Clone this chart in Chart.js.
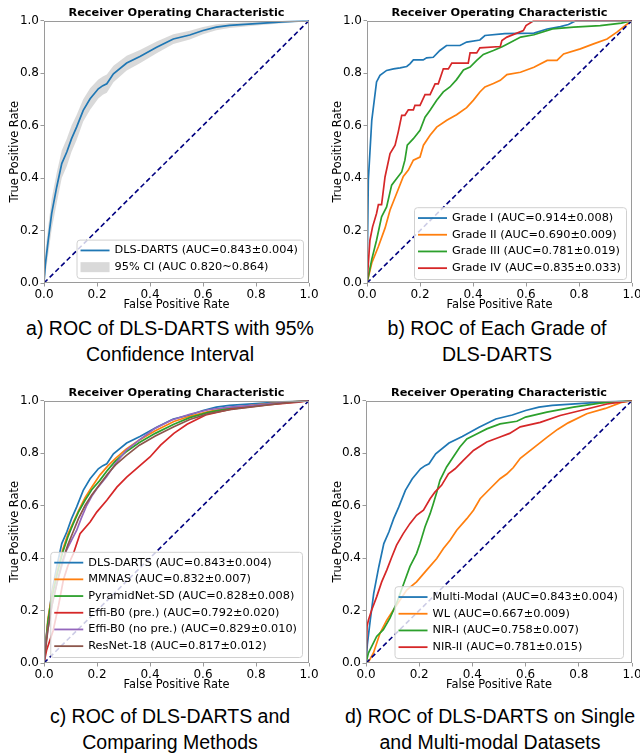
<!DOCTYPE html>
<html>
<head>
<meta charset="utf-8">
<script src="https://cdn.jsdelivr.net/npm/chart.js@4.4.1/dist/chart.umd.min.js"></script>
<style>
  html, body { margin: 0; padding: 0; background: #fff; }
  #page { position: relative; width: 640px; height: 754px; overflow: hidden; }
  canvas { position: absolute; }
  .cap {
    position: absolute; width: 400px; text-align: center; white-space: nowrap;
    font-family: "Liberation Sans", Arial, sans-serif; font-size: 19.5px; line-height: 26px; color: #000;
  }
</style>
</head>
<body>
<div id="page">
  <canvas id="rocA" width="320" height="312" style="left:0;top:0"></canvas>
  <canvas id="rocB" width="320" height="312" style="left:320px;top:0"></canvas>
  <canvas id="rocC" width="320" height="312" style="left:0;top:380px"></canvas>
  <canvas id="rocD" width="320" height="312" style="left:320px;top:380px"></canvas>
  <div class="cap" style="left:-30px;top:315px">a) ROC of DLS-DARTS with 95%<br>Confidence Interval</div>
  <div class="cap" style="left:297px;top:315px">b) ROC of Each Grade of<br>DLS-DARTS</div>
  <div class="cap" style="left:-30px;top:703px">c) ROC of DLS-DARTS and<br>Comparing Methods</div>
  <div class="cap" style="left:290px;top:703px">d) ROC of DLS-DARTS on Single<br>and Multi-modal Datasets</div>
</div>
<script>
// ---- data ----
var chanceX = [0, 1];
var chanceY = [0, 1];
var axisTicks = [0, 0.2, 0.4, 0.6, 0.8, 1.0];

// DLS-DARTS / Multi-Modal (same model, panels a, c, d)
var dlsFpr = [0, 0.005, 0.016, 0.029, 0.048, 0.067, 0.086, 0.104, 0.123, 0.148, 0.174, 0.205, 0.222, 0.237, 0.262, 0.312, 0.362, 0.425, 0.488, 0.55, 0.6, 0.65, 0.7, 0.8, 0.9, 1];
var dlsTpr = [0, 0.07, 0.163, 0.265, 0.366, 0.455, 0.499, 0.55, 0.594, 0.658, 0.702, 0.74, 0.752, 0.759, 0.797, 0.838, 0.863, 0.898, 0.93, 0.945, 0.962, 0.975, 0.982, 0.988, 0.995, 1];
var ciUpper = [0, 0.12, 0.215, 0.32, 0.42, 0.505, 0.55, 0.6, 0.64, 0.7, 0.742, 0.775, 0.787, 0.794, 0.828, 0.866, 0.888, 0.92, 0.948, 0.961, 0.975, 0.986, 0.991, 0.995, 0.999, 1];
var ciLower = [0, 0.03, 0.11, 0.205, 0.305, 0.4, 0.445, 0.5, 0.545, 0.615, 0.66, 0.703, 0.717, 0.725, 0.765, 0.81, 0.837, 0.875, 0.911, 0.928, 0.948, 0.963, 0.972, 0.981, 0.99, 1];

// panel b: grades
var g1Fpr = [0, 0.005, 0.018, 0.036, 0.049, 0.074, 0.1, 0.125, 0.15, 0.162, 0.175, 0.212, 0.225, 0.25, 0.275, 0.3, 0.351, 0.376, 0.426, 0.445, 0.52, 0.63, 0.68, 0.73, 0.76, 0.79, 1];
var g1Tpr = [0, 0.392, 0.62, 0.766, 0.791, 0.81, 0.816, 0.82, 0.825, 0.835, 0.85, 0.85, 0.858, 0.86, 0.886, 0.905, 0.905, 0.918, 0.926, 0.943, 0.95, 0.952, 0.968, 0.977, 0.985, 1, 1];
var g2Fpr = [0, 0.018, 0.043, 0.068, 0.087, 0.112, 0.137, 0.156, 0.175, 0.2, 0.213, 0.238, 0.263, 0.301, 0.338, 0.376, 0.401, 0.426, 0.445, 0.477, 0.503, 0.528, 0.579, 0.63, 0.68, 0.717, 0.742, 0.805, 0.855, 0.906, 0.943, 0.975, 1];
var g2Tpr = [0, 0.076, 0.139, 0.209, 0.278, 0.342, 0.406, 0.43, 0.468, 0.48, 0.525, 0.563, 0.594, 0.62, 0.641, 0.668, 0.696, 0.728, 0.747, 0.76, 0.772, 0.794, 0.803, 0.822, 0.848, 0.848, 0.873, 0.892, 0.911, 0.93, 0.956, 0.981, 1];
var g3Fpr = [0, 0.018, 0.036, 0.055, 0.074, 0.093, 0.112, 0.131, 0.143, 0.152, 0.175, 0.2, 0.219, 0.238, 0.263, 0.288, 0.313, 0.338, 0.364, 0.389, 0.414, 0.439, 0.477, 0.51, 0.53, 0.58, 0.63, 0.7, 0.78, 0.88, 0.96, 1];
var g3Tpr = [0, 0.09, 0.163, 0.252, 0.29, 0.373, 0.398, 0.423, 0.468, 0.525, 0.55, 0.582, 0.632, 0.658, 0.696, 0.728, 0.747, 0.775, 0.812, 0.823, 0.848, 0.871, 0.886, 0.9, 0.911, 0.937, 0.946, 0.968, 0.975, 0.981, 0.99, 1];
var g4Fpr = [0, 0.011, 0.021, 0.036, 0.043, 0.055, 0.068, 0.087, 0.106, 0.118, 0.131, 0.143, 0.156, 0.175, 0.181, 0.2, 0.219, 0.238, 0.257, 0.269, 0.288, 0.307, 0.32, 0.382, 0.389, 0.414, 0.426, 0.503, 0.509, 0.528, 0.59, 0.6, 0.63, 1];
var g4Tpr = [0, 0.163, 0.214, 0.265, 0.299, 0.299, 0.404, 0.493, 0.525, 0.576, 0.639, 0.639, 0.66, 0.66, 0.677, 0.677, 0.718, 0.718, 0.759, 0.759, 0.816, 0.816, 0.838, 0.838, 0.877, 0.877, 0.896, 0.901, 0.924, 0.937, 0.962, 0.981, 1, 1];

// panel c: comparing methods
var cmpFpr = [0, 0.015, 0.03, 0.05, 0.07, 0.09, 0.11, 0.13, 0.155, 0.18, 0.21, 0.24, 0.27, 0.31, 0.36, 0.42, 0.49, 0.55, 0.62, 0.7, 0.8, 0.9, 1];
var mmnasTpr = [0, 0.17, 0.26, 0.35, 0.43, 0.49, 0.535, 0.58, 0.63, 0.67, 0.715, 0.75, 0.78, 0.815, 0.85, 0.885, 0.92, 0.94, 0.958, 0.972, 0.984, 0.993, 1];
var pyramidTpr = [0, 0.16, 0.25, 0.34, 0.42, 0.48, 0.53, 0.575, 0.62, 0.66, 0.695, 0.735, 0.77, 0.805, 0.84, 0.875, 0.91, 0.935, 0.955, 0.97, 0.982, 0.992, 1];
var resnetTpr = [0, 0.13, 0.22, 0.31, 0.39, 0.45, 0.5, 0.55, 0.6, 0.64, 0.68, 0.72, 0.755, 0.79, 0.83, 0.865, 0.9, 0.928, 0.95, 0.965, 0.978, 0.99, 1];
var effiPreFpr = [0, 0.01, 0.035, 0.055, 0.073, 0.09, 0.111, 0.136, 0.174, 0.199, 0.237, 0.275, 0.312, 0.362, 0.4, 0.44, 0.49, 0.54, 0.61, 0.71, 0.84, 0.96, 1];
var effiPreTpr = [0, 0.05, 0.125, 0.22, 0.316, 0.37, 0.417, 0.493, 0.537, 0.575, 0.62, 0.67, 0.708, 0.752, 0.785, 0.83, 0.875, 0.91, 0.945, 0.968, 0.983, 0.994, 1];
var effiNoFpr = [0, 0.01, 0.03, 0.05, 0.07, 0.085, 0.105, 0.123, 0.14, 0.161, 0.18, 0.2, 0.236, 0.27, 0.31, 0.36, 0.42, 0.48, 0.55, 0.62, 0.7, 0.8, 0.9, 1];
var effiNoTpr = [0, 0.1, 0.22, 0.31, 0.38, 0.43, 0.47, 0.505, 0.55, 0.6, 0.635, 0.665, 0.71, 0.76, 0.81, 0.85, 0.895, 0.925, 0.948, 0.965, 0.975, 0.983, 0.992, 1];

// panel d: modalities
var wlFpr = [0, 0.01, 0.028, 0.053, 0.078, 0.103, 0.128, 0.153, 0.19, 0.228, 0.266, 0.291, 0.316, 0.341, 0.379, 0.404, 0.429, 0.466, 0.504, 0.529, 0.554, 0.58, 0.63, 0.68, 0.72, 0.76, 0.83, 0.9, 0.96, 1];
var wlTpr = [0, 0.005, 0.038, 0.114, 0.163, 0.202, 0.24, 0.278, 0.309, 0.354, 0.398, 0.436, 0.468, 0.506, 0.55, 0.582, 0.626, 0.664, 0.702, 0.72, 0.745, 0.78, 0.82, 0.86, 0.89, 0.915, 0.95, 0.97, 0.993, 1];
var nir1Fpr = [0, 0.009, 0.04, 0.065, 0.09, 0.115, 0.14, 0.165, 0.19, 0.203, 0.222, 0.241, 0.253, 0.266, 0.278, 0.303, 0.328, 0.353, 0.379, 0.416, 0.454, 0.504, 0.567, 0.6, 0.68, 0.78, 0.88, 1];
var nir1Tpr = [0, 0.038, 0.101, 0.127, 0.171, 0.228, 0.297, 0.367, 0.417, 0.455, 0.519, 0.569, 0.607, 0.651, 0.696, 0.747, 0.785, 0.823, 0.854, 0.873, 0.892, 0.911, 0.921, 0.937, 0.956, 0.975, 0.99, 1];
var nir2Fpr = [0, 0.004, 0.009, 0.021, 0.04, 0.059, 0.078, 0.097, 0.115, 0.14, 0.165, 0.19, 0.216, 0.241, 0.259, 0.284, 0.31, 0.335, 0.366, 0.404, 0.454, 0.504, 0.54, 0.58, 0.655, 0.73, 0.83, 0.906, 1];
var nir2Tpr = [0, 0.14, 0.163, 0.201, 0.252, 0.309, 0.354, 0.404, 0.449, 0.493, 0.531, 0.563, 0.582, 0.626, 0.651, 0.677, 0.721, 0.74, 0.772, 0.81, 0.842, 0.861, 0.875, 0.9, 0.917, 0.943, 0.968, 0.987, 1];

var labelsA = ['DLS-DARTS (AUC=0.843\u00b10.004)', '95% CI (AUC 0.820~0.864)'];
var labelsB = ['Grade I (AUC=0.914\u00b10.008)', 'Grade II (AUC=0.690\u00b10.009)', 'Grade III (AUC=0.781\u00b10.019)', 'Grade IV (AUC=0.835\u00b10.033)'];
var labelsC = ['DLS-DARTS (AUC=0.843\u00b10.004)', 'MMNAS (AUC=0.832\u00b10.007)', 'PyramidNet-SD (AUC=0.828\u00b10.008)', 'Effi-B0 (pre.) (AUC=0.792\u00b10.020)', 'Effi-B0 (no pre.) (AUC=0.829\u00b10.010)', 'ResNet-18 (AUC=0.817\u00b10.012)'];
var labelsD = ['Multi-Modal (AUC=0.843\u00b10.004)', 'WL (AUC=0.667\u00b10.009)', 'NIR-I (AUC=0.758\u00b10.007)', 'NIR-II (AUC=0.781\u00b10.015)'];

var tab = ['#1f77b4', '#ff7f0e', '#2ca02c', '#d62728', '#9467bd', '#8c564b'];
var FONT = '"DejaVu Sans", sans-serif';

function pts(xs, ys) {
    return xs.map(function(x, i) { return { x: x, y: ys[i] }; });
}

function rocLine(label, xs, ys, color, i) {
    return { label: label, data: pts(xs, ys), borderColor: color, borderWidth: 1.7,
             pointRadius: 0, fill: false, tension: 0, order: -i };
}

function chanceLine() {
    return { label: 'chance', data: pts(chanceX, chanceY), borderColor: '#000080', borderWidth: 1.6,
             borderDash: [5, 3], pointRadius: 0, fill: false, order: -50 };
}

// matplotlib-like legend in the lower right of the axes + full frame
var rocFrame = {
    id: 'rocFrame',
    afterDatasetsDraw: function(chart, args, o) {
        var ctx = chart.ctx, a = chart.chartArea;
        ctx.save();
        ctx.strokeStyle = '#9a9a9a';
        ctx.lineWidth = 1;
        ctx.strokeRect(Math.round(a.left) + 0.5, Math.round(a.top) + 0.5,
                       Math.round(a.right - a.left) - 1, Math.round(a.bottom - a.top) - 1);
        if (!o.items) { ctx.restore(); return; }
        ctx.font = '11.3px ' + FONT;
        var rowH = 16.7, padL = 4, handle = 29, gap = 5, padR = 5;
        var tw = 0;
        o.items.forEach(function(it) { tw = Math.max(tw, ctx.measureText(it.label).width); });
        var w = padL + handle + gap + tw + padR;
        var h = o.items.length * rowH + 5;
        var x = a.right - o.right - w, y = a.bottom - o.bottom - h;
        ctx.beginPath();
        ctx.roundRect(x + 0.5, y + 0.5, w, h, 3);
        ctx.fillStyle = 'rgba(255,255,255,0.8)';
        ctx.fill();
        ctx.strokeStyle = '#d0d0d0';
        ctx.stroke();
        o.items.forEach(function(it, i) {
            var cy = y + 2.5 + rowH * (i + 0.5);
            if (it.patch) {
                ctx.fillStyle = it.color;
                ctx.fillRect(x + padL, cy - 5, handle, 10);
            } else {
                ctx.beginPath();
                ctx.moveTo(x + padL, cy);
                ctx.lineTo(x + padL + handle, cy);
                ctx.strokeStyle = it.color;
                ctx.lineWidth = 1.8;
                ctx.stroke();
            }
            ctx.fillStyle = '#000';
            ctx.textBaseline = 'middle';
            ctx.fillText(it.label, x + padL + handle + gap, cy);
        });
        ctx.restore();
    }
};

function axis(title, isY, fitSize, titlePad) {
    return {
        type: 'linear', min: 0, max: 1,
        afterBuildTicks: function(s) { s.ticks = axisTicks.map(function(v) { return { value: v }; }); },
        afterFit: function(s) {
            if (isY) { s.width = fitSize; s.paddingTop = 0; s.paddingBottom = 0; }
            else { s.height = fitSize; s.paddingLeft = 0; s.paddingRight = 0; }
        },
        grid: { display: true, drawOnChartArea: false, drawTicks: true, tickLength: 3.5, color: '#9a9a9a' },
        border: { display: false },
        ticks: { color: '#000', font: { family: FONT, size: 12 }, padding: 1.5,
                 maxRotation: 0, autoSkip: false,
                 callback: function(v) { return Number(v).toFixed(1); } },
        title: { display: true, text: title, color: '#000', font: { family: FONT, size: 11.4 },
                 padding: isY ? { top: titlePad, bottom: 0 } : { top: 0, bottom: 0 } }
    };
}

function makeRoc(id, datasets, items, cfg) {
    return new Chart(document.getElementById(id), {
        type: 'line',
        data: { datasets: datasets },
        plugins: [rocFrame],
        options: {
            responsive: false, animation: false, devicePixelRatio: 1,
            layout: { padding: { left: 0, right: cfg.rightPad, top: 0, bottom: 0 } },
            scales: {
                x: axis('False Positive Rate', false, 29, 0),
                y: axis('True Positive Rate', true, cfg.yW, cfg.yTitlePad)
            },
            plugins: {
                legend: { display: false },
                tooltip: { enabled: false },
                title: { display: true, text: 'Receiver Operating Characteristic', fullSize: false,
                         color: '#000', font: { family: FONT, size: 11.3, weight: 'bold' },
                         padding: { top: 6, bottom: 1 } },
                rocFrame: { items: items, right: cfg.legRight, bottom: cfg.legBottom }
            }
        }
    });
}

// a) with confidence band
makeRoc('rocA', [
    rocLine(labelsA[0], dlsFpr, dlsTpr, tab[0], 0),
    { label: 'ci-upper', data: pts(dlsFpr, ciUpper), borderWidth: 0, pointRadius: 0,
      backgroundColor: 'rgba(128,128,128,0.3)', fill: '+1', order: 5 },
    { label: 'ci-lower', data: pts(dlsFpr, ciLower), borderWidth: 0, pointRadius: 0, fill: false, order: 6 },
    chanceLine()
], [
    { label: labelsA[0], color: tab[0] },
    { label: labelsA[1], color: 'rgba(128,128,128,0.3)', patch: true }
], { rightPad: 11, yW: 44, yTitlePad: 8.2, legRight: 6, legBottom: 5 });

// b) grades
makeRoc('rocB', [
    rocLine(labelsB[0], g1Fpr, g1Tpr, tab[0], 0),
    rocLine(labelsB[1], g2Fpr, g2Tpr, tab[1], 1),
    rocLine(labelsB[2], g3Fpr, g3Tpr, tab[2], 2),
    rocLine(labelsB[3], g4Fpr, g4Tpr, tab[3], 3),
    chanceLine()
], labelsB.map(function(l, i) { return { label: l, color: tab[i] }; }),
{ rightPad: 8, yW: 47, yTitlePad: 11.2, legRight: 6, legBottom: 4 });

// c) comparing methods
makeRoc('rocC', [
    rocLine(labelsC[0], dlsFpr, dlsTpr, tab[0], 0),
    rocLine(labelsC[1], cmpFpr, mmnasTpr, tab[1], 1),
    rocLine(labelsC[2], cmpFpr, pyramidTpr, tab[2], 2),
    rocLine(labelsC[3], effiPreFpr, effiPreTpr, tab[3], 3),
    rocLine(labelsC[4], effiNoFpr, effiNoTpr, tab[4], 4),
    rocLine(labelsC[5], cmpFpr, resnetTpr, tab[5], 5),
    chanceLine()
], labelsC.map(function(l, i) { return { label: l, color: tab[i] }; }),
{ rightPad: 11, yW: 44, yTitlePad: 8.2, legRight: 7, legBottom: 6 });

// d) single vs multi-modal
makeRoc('rocD', [
    rocLine(labelsD[0], dlsFpr, dlsTpr, tab[0], 0),
    rocLine(labelsD[1], wlFpr, wlTpr, tab[1], 1),
    rocLine(labelsD[2], nir1Fpr, nir1Tpr, tab[2], 2),
    rocLine(labelsD[3], nir2Fpr, nir2Tpr, tab[3], 3),
    chanceLine()
], labelsD.map(function(l, i) { return { label: l, color: tab[i] }; }),
{ rightPad: 8, yW: 46, yTitlePad: 11.2, legRight: 9, legBottom: 5 });
</script>
</body>
</html>
